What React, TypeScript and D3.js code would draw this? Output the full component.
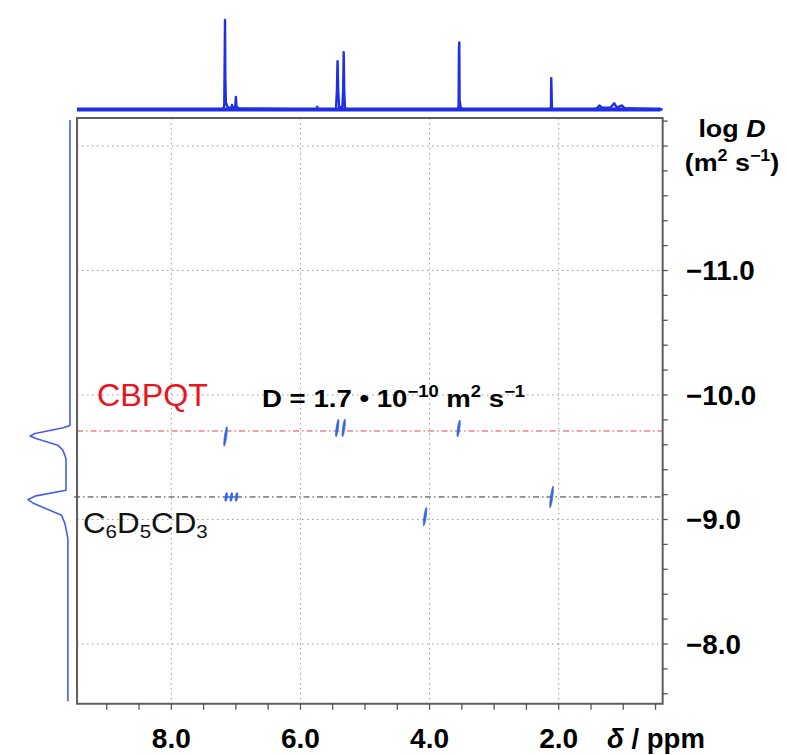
import React from "react";
import * as d3 from "d3";

// ---------- data ----------
const xMajorTicks = [8, 6, 4, 2];
const xMajorLabels = ["8.0", "6.0", "4.0", "2.0"];
const xMinorTicks = [9.0, 8.5, 8.0, 7.5, 7.0, 6.5, 6.0, 5.5, 5.0, 4.5, 4.0, 3.5, 3.0, 2.5, 2.0, 1.5, 1.0, 0.5];
const yMajorTicks = [-11, -10, -9, -8];
const yMajorLabels = ["\u221211.0", "\u221210.0", "\u22129.0", "\u22128.0"];
const yMinorTicks = [-12.2, -12.0, -11.8, -11.6, -11.4, -11.2, -11.0, -10.8, -10.6, -10.4, -10.2, -10.0, -9.8, -9.6, -9.4, -9.2, -9.0, -8.8, -8.6, -8.4, -8.2, -8.0, -7.8, -7.6];
const xGridValues = [8, 6, 4, 2];
const yGridValues = [-12, -11, -10, -9, -8];
const ppmExtent = [9.46, 0.39];
const logDExtent = [-12.225, -7.52];

// 1D 1H spectrum (ppm, relative intensity)
const spectrum: [number, number][] = [
  [9.46, 0], [7.2, 0], [7.18, 0.04], [7.172, 0.66], [7.168, 1.0], [7.163, 0.35], [7.155, 0.08],
  [7.14, 0.05], [7.12, 0.02], [7.07, 0.02], [7.06, 0.05], [7.05, 0.02], [7.01, 0.03], [7.0, 0.14],
  [6.99, 0.03], [6.95, 0.01], [5.75, 0], [5.74, 0.03], [5.73, 0], [5.45, 0], [5.435, 0.21],
  [5.425, 0.54], [5.415, 0.21], [5.4, 0.02], [5.35, 0.03], [5.338, 0.21], [5.33, 0.64],
  [5.322, 0.21], [5.31, 0.02], [5.29, 0], [3.56, 0], [3.55, 0.05], [3.545, 0.66], [3.54, 0.75],
  [3.535, 0.1], [3.52, 0.03], [3.5, 0], [2.13, 0], [2.12, 0.03], [2.115, 0.35], [2.105, 0.02],
  [2.09, 0], [1.45, 0], [1.4, 0.02], [1.37, 0.045], [1.33, 0.02], [1.2, 0.02], [1.14, 0.07],
  [1.1, 0.02], [1.02, 0.045], [0.98, 0.015], [0.39, 0],
];

// diffusion projection (log D, relative intensity)
const projection: [number, number][] = [
  [-12.209, 0], [-9.755, 0], [-9.737, 0.16], [-9.691, 0.83], [-9.671, 0.95], [-9.651, 0.81],
  [-9.597, 0.29], [-9.557, 0.17], [-9.49, 0.095], [-9.235, 0.095], [-9.19, 0.81], [-9.16, 1.0],
  [-9.128, 0.86], [-9.034, 0.2], [-8.967, 0.12], [-8.847, 0.05], [-7.54, 0.05],
];

// DOSY cross peaks
const crossPpm = [7.16, 5.43, 5.33, 3.55, 7.15, 7.07, 6.99, 4.07, 2.11];
const crossLogD = [-9.667, -9.735, -9.735, -9.731, -9.181, -9.181, -9.181, -9.024, -9.181];
const crossHalfSpan = [0.08, 0.072, 0.072, 0.068, 0.036, 0.036, 0.036, 0.076, 0.088];

const cbpqtLogD = -9.711;
const tolueneLogD = -9.181;

// ---------- layout ----------
const W = 787;
const H = 755;
const FONT = "'Liberation Sans', Arial, sans-serif";

const x = d3.scaleLinear().domain([8, 2]).range([171.3, 558.7]);
const y = d3.scaleLinear().domain([-12, -8]).range([146, 644]);
const specY = d3.scaleLinear().domain([0, 1]).range([109.5, 20]);
const projX = d3.scaleLinear().domain([0, 1]).range([70, 28]);

const Txt = ({ tx, ty, sx = 1, anchor = "start", size, weight = "normal", fill = "#000", children }: any) => (
  <g transform={`translate(${tx},${ty}) scale(${sx},1)`}>
    <text x={0} y={0} textAnchor={anchor} fontSize={size} fontWeight={weight} fill={fill} fontFamily={FONT}>
      {children}
    </text>
  </g>
);

export default function App() {
  const fl = x(ppmExtent[0]);
  const fr = x(ppmExtent[1]);
  const ft = y(logDExtent[0]);
  const fb = y(logDExtent[1]);

  const specLine = d3
    .line<[number, number]>()
    .x((d) => x(d[0]))
    .y((d) => specY(d[1]))(spectrum) as string;

  const projLine = d3
    .line<[number, number]>()
    .x((d) => projX(d[1]))
    .y((d) => y(d[0]))(projection) as string;

  const peakColor = "#3566e6";

  return (
    <svg
      width={W}
      height={H}
      style={{ position: "absolute", left: 0, top: 0, display: "block", background: "#fff" }}
    >
      {/* grid */}
      {xGridValues.map((v) => (
        <line key={"gx" + v} x1={x(v)} x2={x(v)} y1={ft} y2={fb} stroke="#9a9a9a" strokeWidth={1} strokeDasharray="1.5 3.5" />
      ))}
      {yGridValues.map((v) => (
        <line key={"gy" + v} x1={fl} x2={fr} y1={y(v)} y2={y(v)} stroke="#9a9a9a" strokeWidth={1} strokeDasharray="1.5 3.5" />
      ))}

      {/* reference lines */}
      <line x1={fl} x2={fr} y1={y(cbpqtLogD)} y2={y(cbpqtLogD)} stroke="#e8404a" strokeWidth={1} strokeDasharray="6 3 1.5 3" />
      <line x1={fl - 3} x2={fr} y1={y(tolueneLogD)} y2={y(tolueneLogD)} stroke="#333" strokeWidth={1} strokeDasharray="6 3 1.5 3" />

      {/* toluene aromatic cluster connector */}
      <line x1={x(7.17)} x2={x(6.97)} y1={y(tolueneLogD)} y2={y(tolueneLogD)} stroke={peakColor} strokeWidth={1.4} />

      {/* cross peaks */}
      {crossPpm.map((p, i) => {
        const cx = x(p);
        const cy = y(crossLogD[i]);
        const ry = y(crossLogD[i] + crossHalfSpan[i]) - cy;
        return (
          <ellipse
            key={"cp" + i}
            cx={0}
            cy={0}
            rx={1.2}
            ry={ry}
            transform={`translate(${cx},${cy}) rotate(8)`}
            fill={peakColor}
            stroke={peakColor}
            strokeWidth={0.6}
          />
        );
      })}

      {/* frame */}
      <rect x={fl} y={ft} width={fr - fl} height={fb - ft} fill="none" stroke="#5e5e5e" strokeWidth={2} />

      {/* x ticks */}
      {xMinorTicks.map((v) => (
        <line key={"xt" + v} x1={x(v)} x2={x(v)} y1={fb} y2={fb + 6} stroke="#555" strokeWidth={1.3} />
      ))}
      {/* y ticks */}
      {yMinorTicks.map((v) => (
        <line key={"yt" + v} x1={fr} x2={fr + 5} y1={y(v)} y2={y(v)} stroke="#555" strokeWidth={1.3} />
      ))}

      {/* x labels */}
      {xMajorTicks.map((v, i) => (
        <Txt key={"xl" + v} tx={x(v)} ty={748} sx={1.04} anchor="middle" size={27} weight="bold">
          {xMajorLabels[i]}
        </Txt>
      ))}
      <Txt tx={607} ty={748} sx={1.02} size={27} weight="bold">
        <tspan fontStyle="italic">δ</tspan> / ppm
      </Txt>

      {/* y labels */}
      {yMajorTicks.map((v, i) => (
        <Txt key={"yl" + v} tx={686} ty={y(v) + 9.5} sx={1.03} size={27} weight="bold">
          {yMajorLabels[i]}
        </Txt>
      ))}
      <Txt tx={732} ty={137} sx={1.12} anchor="middle" size={24} weight="bold">
        log <tspan fontStyle="italic">D</tspan>
      </Txt>
      <Txt tx={732} ty={171} sx={1.12} anchor="middle" size={24} weight="bold">
        (m<tspan fontSize={16} dy={-10}>2</tspan>
        <tspan dy={10}> s</tspan>
        <tspan fontSize={16} dy={-10}>{"\u22121"}</tspan>
        <tspan dy={10}>)</tspan>
      </Txt>

      {/* annotations */}
      <Txt tx={97} ty={406} sx={1.04} size={31} fill="#e8141e">
        CBPQT
      </Txt>
      <Txt tx={262} ty={407} sx={1.15} size={24} weight="bold">
        D = 1.7 • 10<tspan fontSize={16} dy={-10}>{"\u221210"}</tspan>
        <tspan dy={10}> m</tspan>
        <tspan fontSize={16} dy={-10}>2</tspan>
        <tspan dy={10}> s</tspan>
        <tspan fontSize={16} dy={-10}>{"\u22121"}</tspan>
      </Txt>
      <Txt tx={83} ty={533} sx={1.08} size={29} fill="#111">
        C<tspan fontSize={19} dy={5}>6</tspan>
        <tspan dy={-5}>D</tspan>
        <tspan fontSize={19} dy={5}>5</tspan>
        <tspan dy={-5}>CD</tspan>
        <tspan fontSize={19} dy={5}>3</tspan>
      </Txt>

      {/* 1D spectrum on top */}
      <line x1={fl} x2={fr - 2} y1={specY(0)} y2={specY(0)} stroke="#1f2fe6" strokeWidth={4} />
      <path d={specLine} fill="none" stroke="#1f2fe6" strokeWidth={2.4} strokeLinejoin="round" />

      {/* diffusion projection on left */}
      <path d={projLine} fill="none" stroke="#4a5de6" strokeWidth={1.6} strokeLinejoin="round" />
    </svg>
  );
}
